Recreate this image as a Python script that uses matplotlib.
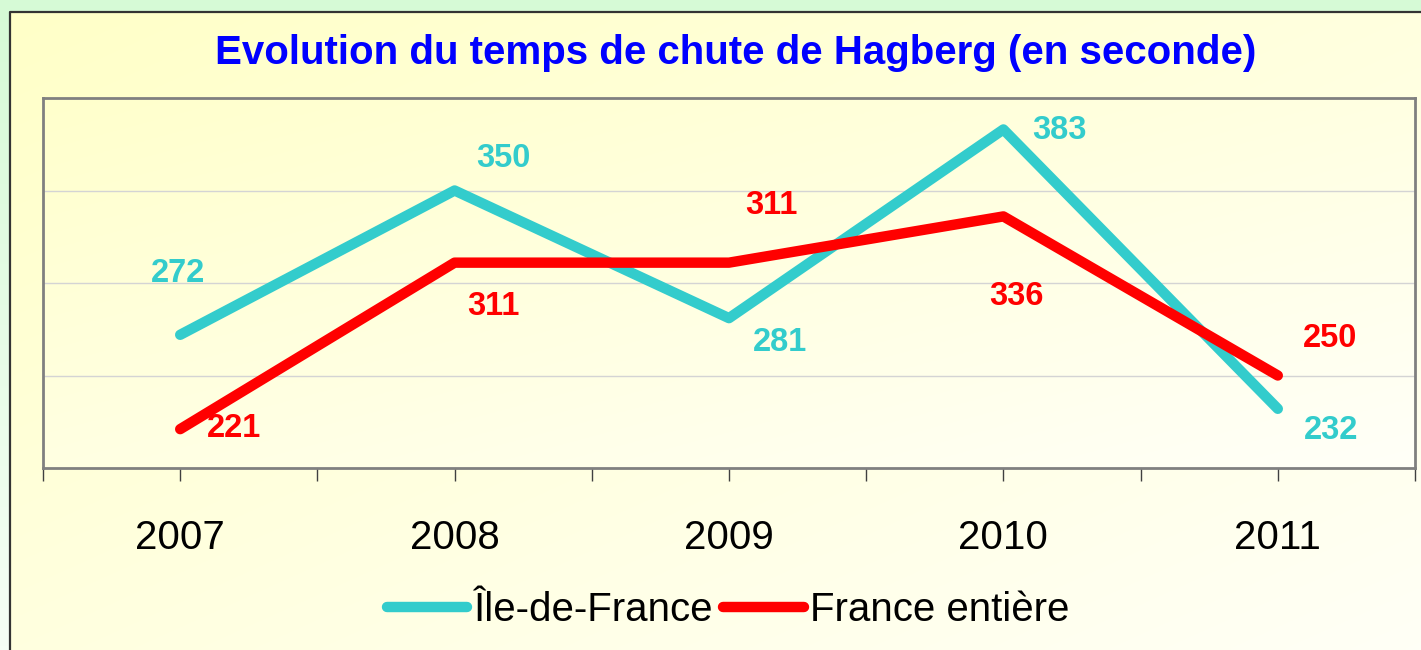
import numpy as np
import matplotlib.pyplot as plt
from matplotlib import font_manager
from matplotlib.colors import LinearSegmentedColormap

years = ['2007', '2008', '2009', '2010', '2011']
idf = [272, 350, 281, 383, 232]
france = [221, 311, 311, 336, 250]
series_names = ['Île-de-France', 'France entière']

# where each value label sits relative to its point, in pixels (right, down)
idf_offsets = [(-2, -61), (49, -32), (51, 24), (56, 1), (53, 22)]
fr_offsets = [(54, -1), (39, 44), (42, -57), (13, 80), (52, -37)]

CYAN = '#33CCCC'
RED = '#FF0000'

# Arial Narrow look-alike if available, else plain Liberation Sans
names = {f.name for f in font_manager.fontManager.ttflist}
if 'Liberation Sans Narrow' in names:
    FONT, k = 'Liberation Sans Narrow', 1.2
else:
    FONT, k = 'Liberation Sans', 1.0
plt.rcParams['font.family'] = [FONT, 'DejaVu Sans']

W, H = 1421, 650
fig = plt.figure(figsize=(W / 100, H / 100), dpi=100)

# background layer in pixel coordinates
bg = fig.add_axes([0, 0, 1, 1])
bg.axis('off')


def gradient(x0, x1, y0, y1, c0, c1, diagonal=True):
    n = 200
    i = np.linspace(0, 1, n)[:, None]
    j = np.linspace(0, 1, n)[None, :]
    t = (i + j) / 2 if diagonal else i + 0 * j
    cmap = LinearSegmentedColormap.from_list('g', [c0, c1])
    bg.imshow(t, cmap=cmap, extent=(x0, x1, y1, y0), origin='upper',
              aspect='auto', interpolation='bilinear', zorder=0)


gradient(0, W, 0, H, '#d6fad6', '#f6fff6', diagonal=False)
gradient(10, W, 12, H, '#ffffc8', '#fffff6')
gradient(43, 1415, 98, 468, '#ffffcc', '#fffff8')
bg.plot([10, 10, W], [H, 12, 12], color='#333333', lw=1.6, zorder=1)
bg.set_xlim(0, W)
bg.set_ylim(H, 0)

# plot area
ax = fig.add_axes([43 / W, 1 - 468 / H, (1415 - 43) / W, (468 - 98) / H])
ax.patch.set_alpha(0)
x = np.arange(len(years))

ax.plot(x, idf, color=CYAN, lw=7.5, solid_capstyle='round',
        solid_joinstyle='round', label=series_names[0], zorder=3)
ax.plot(x, france, color=RED, lw=7.5, solid_capstyle='round',
        solid_joinstyle='round', label=series_names[1], zorder=3)

for vals, offs, col in [(idf, idf_offsets, CYAN), (france, fr_offsets, RED)]:
    for xi, v, (dx, dy) in zip(x, vals, offs):
        ax.annotate(str(v), (xi, v), xytext=(dx * 0.72, -dy * 0.72),
                    textcoords='offset points', ha='center', va='center',
                    fontsize=23.5 * k, fontweight='bold', color=col, zorder=4)

ax.set_ylim(200, 400)
ax.set_yticks([250, 300, 350])
ax.yaxis.grid(True, color='#d4d4d4', lw=1)
ax.set_axisbelow(True)
ax.tick_params(axis='y', length=0, labelleft=False)

ax.set_xlim(-0.5, 4.5)
ax.set_xticks(x, years)
ax.set_xticks(np.arange(-0.5, 4.6, 1), minor=True)
ax.tick_params(axis='x', which='both', direction='out', length=9, width=1,
               color='#404040')
ax.tick_params(axis='x', which='major', labelsize=29 * k, pad=28)

for s in ax.spines.values():
    s.set_color('#808080')
    s.set_linewidth(2)

fig.text(736 / W, 1 - 53 / H, 'Evolution du temps de chute de Hagberg (en seconde)',
         ha='center', va='center', fontsize=29 * k, fontweight='bold',
         color='#0000FF')

fig.legend(loc='center', bbox_to_anchor=(728 / W, 1 - 610 / H), ncol=2,
           frameon=False, fontsize=29 * k, handlelength=2.0,
           handletextpad=0.15, columnspacing=0.25)

fig.savefig('out.png', dpi=100)
